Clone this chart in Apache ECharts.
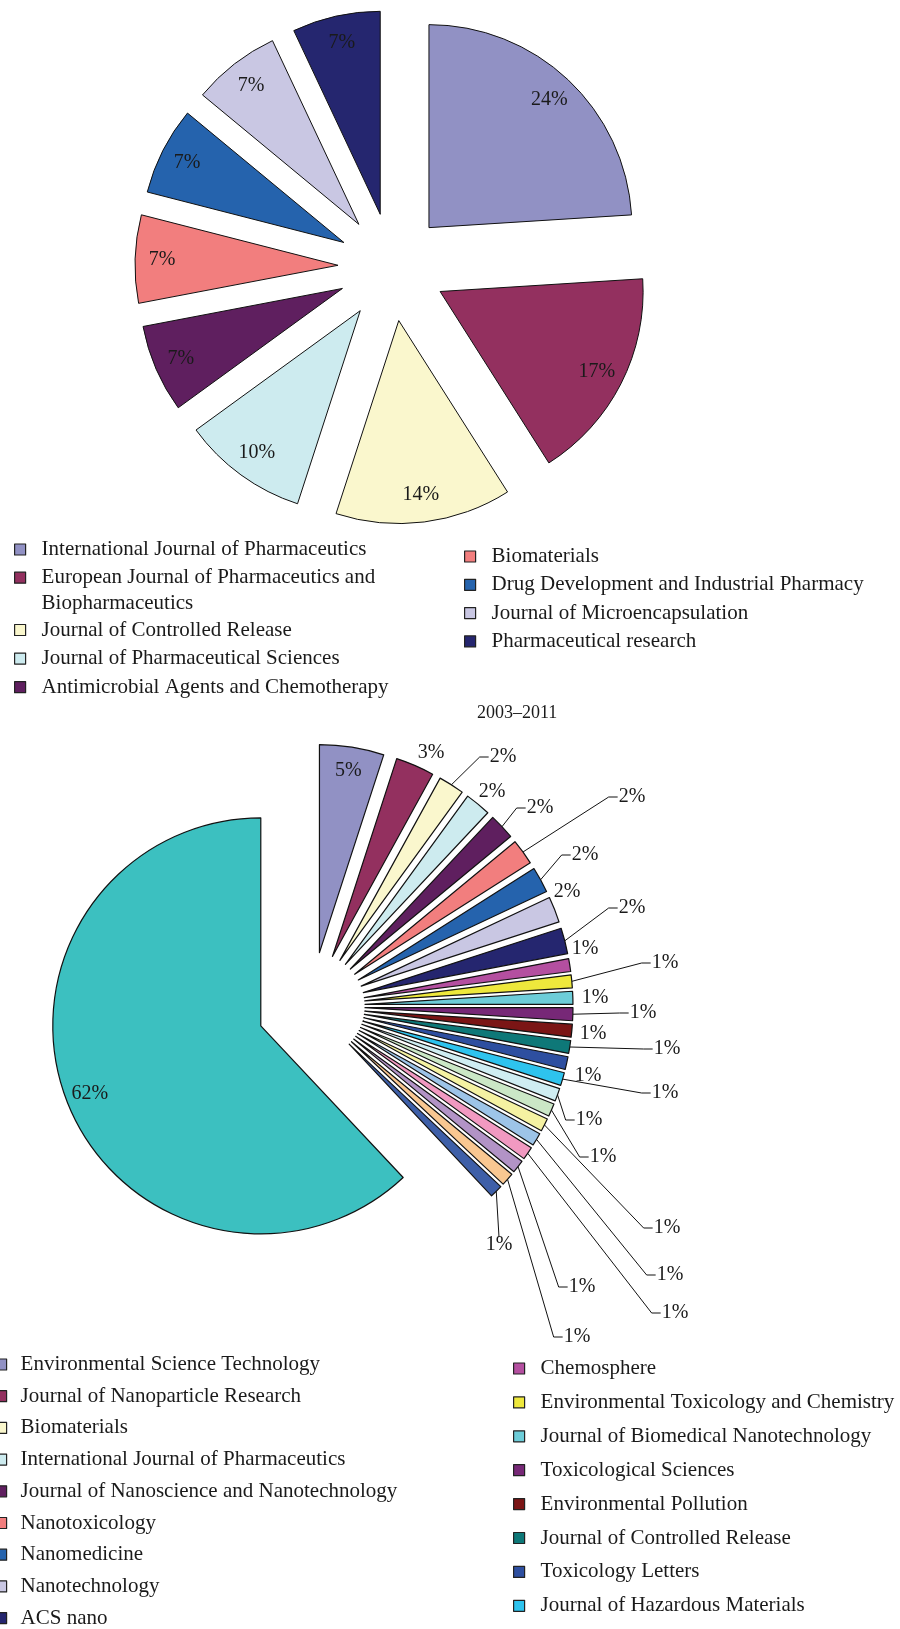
<!DOCTYPE html>
<html>
<head>
<meta charset="utf-8">
<title>Journals pie charts</title>
<script src="https://cdn.jsdelivr.net/npm/echarts@6/dist/echarts.min.js"></script>
<style>
  html, body { margin: 0; padding: 0; background: #fff; }
  #chart { width: 900px; height: 1629px; }
</style>
</head>
<body>
<div id="chart"></div>
<script>
// top pie: journals before 2003
const topNames = [
  'International Journal of Pharmaceutics',
  'European Journal of Pharmaceutics and Biopharmaceutics',
  'Journal of Controlled Release',
  'Journal of Pharmaceutical Sciences',
  'Antimicrobial Agents and Chemotherapy',
  'Biomaterials',
  'Drug Development and Industrial Pharmacy',
  'Journal of Microencapsulation',
  'Pharmaceutical research'
]
const topValues = [24, 17, 14, 10, 7, 7, 7, 7, 7]
const topColors = ['#9191c4', '#93305f', '#faf7cd', '#cdebef', '#5f1f5f', '#f27e7e', '#2563ad', '#c9c7e3', '#25266f']

// bottom pie: 2003–2011 (legend in the source is cut after 17 names)
const bottomNames = [
  'Environmental Science Technology',
  'Journal of Nanoparticle Research',
  'Biomaterials',
  'International Journal of Pharmaceutics',
  'Journal of Nanoscience and Nanotechnology',
  'Nanotoxicology',
  'Nanomedicine',
  'Nanotechnology',
  'ACS nano',
  'Chemosphere',
  'Environmental Toxicology and Chemistry',
  'Journal of Biomedical Nanotechnology',
  'Toxicological Sciences',
  'Environmental Pollution',
  'Journal of Controlled Release',
  'Toxicology Letters',
  'Journal of Hazardous Materials',
  '', '', '', '', '', '', '', '', ''
]
const bottomValues = [5, 3, 2, 2, 2, 2, 2, 2, 2, 1, 1, 1, 1, 1, 1, 1, 1, 1, 1, 1, 1, 1, 1, 1, 1, 62]
const bottomColors = [
  '#9191c4', '#93305f', '#faf7cd', '#cdebef', '#5f1f5f', '#f27e7e', '#2563ad', '#c9c7e3', '#25266f',
  '#b44fa0', '#eee83c', '#6dcdd9', '#772877', '#7b1515', '#0e7878', '#2e4fa0', '#2ec3ee',
  '#cfedf2', '#cbe7c6', '#f5f2a2', '#9dc4e8', '#f199c1', '#b293c6', '#f9c791', '#3e5fa8', '#3cc0c0'
]

// where the outside labels of the small slices sit (text centre, px) and which get a leader
const bottomLabelSpots = [
  null, [431, 753], [503, 757], [492, 792], [540, 808], [632, 797], [585, 855], [567, 892],
  [632, 908], [585, 949], [665, 963], [595, 998], [643, 1013], [593, 1034], [667, 1049],
  [588, 1076], [665, 1093], [589, 1120], [603, 1157], [667, 1228], [670, 1275], [675, 1313],
  [582, 1287], [577, 1337], [499, 1245], null
]
const bottomLeaders = [
  0, 0, 1, 0, 1, 1, 1, 0, 1, 0, 1, 0, 1, 0, 1, 0, 1, 1, 1, 1, 1, 1, 1, 1, 1, 0
]

const FONT = '"Liberation Serif", "DejaVu Serif", serif'
const OFFSET = 54
const TOP_C = [392, 267]
const TOP_R = 203
const BOT_C = [311, 1006]
const BOT_R = 208

const chart = echarts.init(document.getElementById('chart'), null, { renderer: 'canvas' })

const pieItems = (names, values, colors) => values.map((v, i) => ({
  name: names[i],
  value: v,
  selected: true,
  itemStyle: { color: colors[i] }
}))

const pctLabel = { formatter: '{c}%', fontFamily: FONT, fontSize: 20, color: '#1a1a1a' }

// transparent twin of a pie, only there to carry the inside labels further out
const labelPie = (center, radius, values, showIf) => ({
  type: 'pie',
  silent: true,
  center,
  radius: [0, radius],
  startAngle: 90,
  clockwise: true,
  selectedMode: 'multiple',
  selectedOffset: OFFSET,
  avoidLabelOverlap: false,
  emphasis: { disabled: true },
  itemStyle: { color: 'rgba(0,0,0,0)', borderWidth: 0 },
  label: Object.assign({ show: true, position: 'inside' }, pctLabel),
  labelLine: { show: false },
  data: values.map((v) => ({
    value: v,
    selected: true,
    label: { show: showIf(v) }
  }))
})

const legendItems = (names, colors, from, to) => names.slice(from, to).map((n, i) => ({
  name: n,
  itemStyle: { color: colors[from + i] }
}))

const legendBase = {
  orient: 'vertical',
  padding: 0,
  icon: 'rect',
  itemWidth: 11,
  itemHeight: 11,
  selectedMode: false,
  itemStyle: { borderColor: '#222', borderWidth: 1.2 },
  textStyle: {
    fontFamily: FONT, fontSize: 21, color: '#1a1a1a', padding: [0, 0, 0, 11],
    rich: { t: { fontFamily: FONT, fontSize: 21, color: '#1a1a1a', lineHeight: 26 } }
  }
}

const twoLine = legendItems(topNames, topColors, 1, 2)
twoLine[0].textStyle = { lineHeight: 26 }

// leader: from the slice rim (library's own anchor) to a short horizontal stub left of the text
const leaderLayout = (p) => {
  const spot = bottomLabelSpots[p.dataIndex]
  if (!spot) return {}
  const out = { x: spot[0], y: spot[1], align: 'center', verticalAlign: 'middle' }
  const rim = p.labelLinePoints && p.labelLinePoints[0]
  if (rim && bottomLeaders[p.dataIndex]) {
    const w = p.labelRect.width
    const h = p.labelRect.height
    if (Math.abs(spot[0] - rim[0]) < w / 2) {
      const top = spot[1] - h / 2 + 2
      out.labelLinePoints = [rim, [spot[0], top], [spot[0], top]]
    } else {
      const left = spot[0] - w / 2 - 1
      out.labelLinePoints = [rim, [left - 9, spot[1]], [left, spot[1]]]
    }
  }
  return out
}

const option = {
  backgroundColor: '#fff',
  animation: false,
  title: {
    text: '2003–2011',
    left: 477,
    top: 704,
    padding: 0,
    textStyle: { fontFamily: FONT, fontSize: 18, fontWeight: 'normal', color: '#1a1a1a' }
  },
  legend: [
    Object.assign({}, legendBase, {
      left: 14, top: 539,
      data: legendItems(topNames, topColors, 0, 1)
    }),
    Object.assign({}, legendBase, {
      left: 14, top: 538.7,
      data: twoLine,
      formatter: () => '\n{t|European Journal of Pharmaceutics and}\n{t|Biopharmaceutics}'
    }),
    Object.assign({}, legendBase, {
      left: 14, top: 619.5, itemGap: 7.6,
      data: legendItems(topNames, topColors, 2, 5)
    }),
    Object.assign({}, legendBase, {
      left: 464, top: 546, itemGap: 7.3,
      data: legendItems(topNames, topColors, 5, 9)
    }),
    Object.assign({}, legendBase, {
      left: -5, top: 1354, itemGap: 10.7,
      textStyle: Object.assign({}, legendBase.textStyle, { padding: [0, 0, 0, 9] }),
      data: legendItems(bottomNames, bottomColors, 0, 9)
    }),
    Object.assign({}, legendBase, {
      left: 513, top: 1358, itemGap: 12.9,
      data: legendItems(bottomNames, bottomColors, 9, 17)
    })
  ],
  series: [
    {
      type: 'pie',
      center: TOP_C,
      radius: [0, TOP_R],
      startAngle: 90,
      clockwise: true,
      selectedMode: 'multiple',
      selectedOffset: OFFSET,
      avoidLabelOverlap: false,
      emphasis: { disabled: true },
      itemStyle: { borderColor: '#111', borderWidth: 1 },
      label: { show: false },
      labelLine: { show: false },
      data: pieItems(topNames, topValues, topColors)
    },
    labelPie(TOP_C, 346, topValues, () => true),
    {
      type: 'pie',
      center: BOT_C,
      radius: [0, BOT_R],
      startAngle: 90,
      clockwise: true,
      selectedMode: 'multiple',
      selectedOffset: OFFSET,
      avoidLabelOverlap: false,
      emphasis: { disabled: true },
      itemStyle: { borderColor: '#111', borderWidth: 1.2 },
      label: { show: false },
      labelLine: { show: false },
      data: pieItems(bottomNames, bottomValues, bottomColors)
    },
    labelPie(BOT_C, 362, bottomValues, (v) => v >= 5),
    // unexploded transparent twin reaching the exploded rim: carries the outside labels + leaders
    {
      type: 'pie',
      silent: true,
      center: BOT_C,
      radius: [0, BOT_R + OFFSET],
      startAngle: 90,
      clockwise: true,
      avoidLabelOverlap: false,
      emphasis: { disabled: true },
      itemStyle: { color: 'rgba(0,0,0,0)', borderWidth: 0 },
      label: Object.assign({ show: true, position: 'outside' }, pctLabel),
      labelLine: {
        show: true,
        length: 10,
        length2: 9,
        smooth: false,
        lineStyle: { color: '#111', width: 1 }
      },
      labelLayout: leaderLayout,
      data: bottomValues.map((v, i) => ({
        value: v,
        label: { show: v < 5 },
        labelLine: { show: !!bottomLeaders[i] }
      }))
    }
  ]
}

chart.setOption(option)
window.addEventListener('resize', () => chart.resize())
</script>
</body>
</html>
